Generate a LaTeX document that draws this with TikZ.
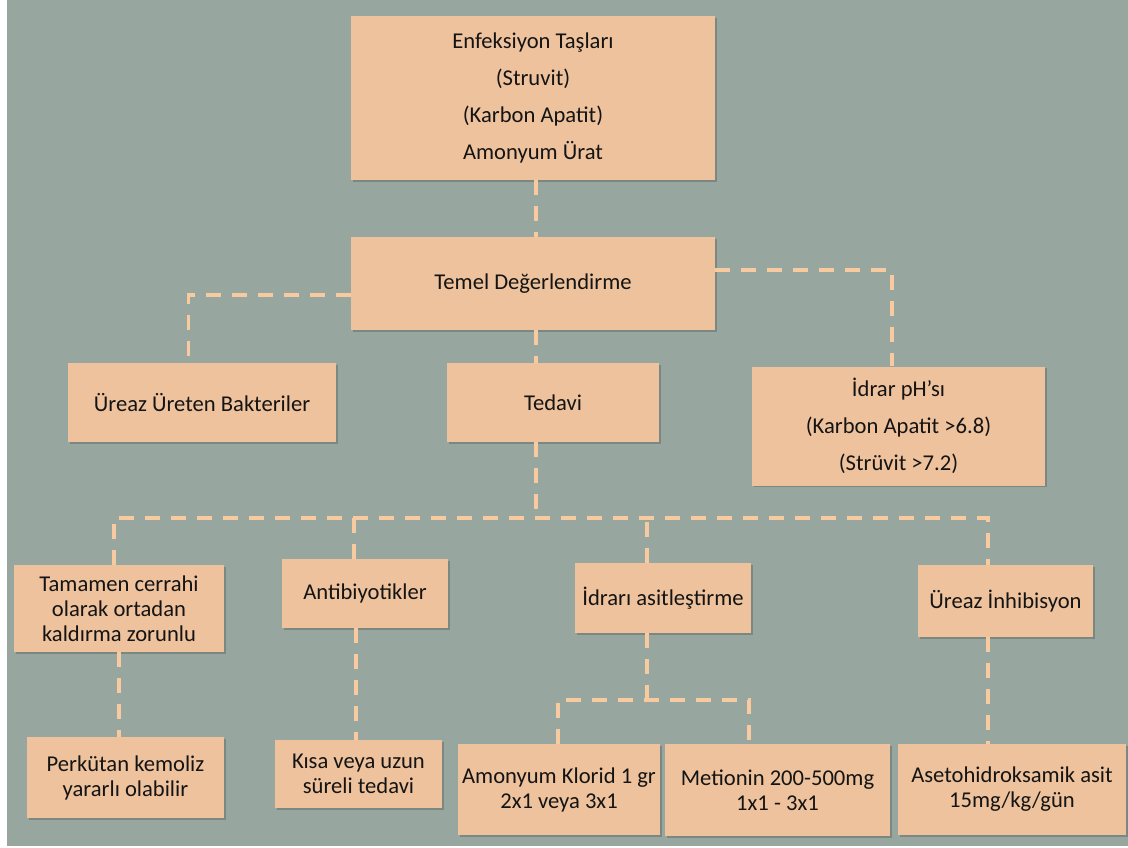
\documentclass[tikz,border=0pt]{standalone}
\usepackage{fontspec}
\setmainfont{Carlito}
\usetikzlibrary{shadows}
\definecolor{bgsage}{HTML}{97A79F}
\definecolor{boxpeach}{HTML}{EEC29C}
\definecolor{linkpeach}{HTML}{F7CA9F}
\definecolor{inkdark}{HTML}{141414}
\tikzset{
  box/.style={rectangle, fill=boxpeach, draw=none, text=inkdark, align=center,
    inner sep=2pt, font=\fontsize{22.6}{25}\selectfont,
    drop shadow={shadow xshift=1.5pt, shadow yshift=-1.5pt, opacity=0.35, fill=black!70}},
  widebox/.style={box, font=\fontsize{22.6}{37}\selectfont},
  link/.style={draw=linkpeach, line width=3.5pt, dash pattern=on 15pt off 11pt}
}
\begin{document}
\begin{tikzpicture}[x=1pt, y=-1pt]
  % canvas
  \useasboundingbox (0,0) rectangle (1128,847);
  \fill[white] (0,0) rectangle (1128,847);
  \fill[bgsage] (7,0) rectangle (1128,846);

  % boxes
  \node[widebox, minimum width=364pt, minimum height=164pt] (top) at (533,98)
    {Enfeksiyon Taşları\\(Struvit)\\(Karbon Apatit)\\Amonyum Ürat};
  \node[box, minimum width=364pt, minimum height=93pt] (temel) at (533,283.5)
    {Temel Değerlendirme};
  \node[box, minimum width=268pt, minimum height=79pt] (ureten) at (202,402.5)
    {Üreaz Üreten Bakteriler};
  \node[box, minimum width=212pt, minimum height=79pt] (tedavi) at (553,402.5)
    {Tedavi};
  \node[widebox, minimum width=293pt, minimum height=119pt] (ph) at (898.5,426)
    {İdrar pH’sı\\(Karbon Apatit >6.8)\\(Strüvit >7.2)};
  \node[box, minimum width=210pt, minimum height=87pt] (tamamen) at (119,608.5)
    {Tamamen cerrahi\\olarak ortadan\\kaldırma zorunlu};
  \node[box, minimum width=166pt, minimum height=69pt] (antibiyo) at (365,593.5)
    {Antibiyotikler};
  \node[box, minimum width=176pt, minimum height=70pt] (idrari) at (663,598)
    {İdrarı asitleştirme};
  \node[box, minimum width=175pt, minimum height=72pt] (inhib) at (1005.5,601)
    {Üreaz İnhibisyon};
  \node[box, minimum width=197pt, minimum height=81pt] (perkutan) at (125.5,777.5)
    {Perkütan kemoliz\\yararlı olabilir};
  \node[box, minimum width=167pt, minimum height=68pt] (kisa) at (358.5,774)
    {Kısa veya uzun\\süreli tedavi};
  \node[box, minimum width=202pt, minimum height=91pt] (amonyum) at (559,789.5)
    {Amonyum Klorid 1 gr\\2x1 veya 3x1};
  \node[box, minimum width=225pt, minimum height=92pt] (metionin) at (777.5,790)
    {Metionin 200-500mg\\1x1 - 3x1};
  \node[box, minimum width=228pt, minimum height=91pt] (aseto) at (1012,789.5)
    {Asetohidroksamik asit\\15mg/kg/gün};

  % junctions of the branching lines
  \coordinate (bus) at (536,518);
  \coordinate (sub) at (647,700);

  % connectors
  \draw[link] ([xshift=3pt]top.south) -- ([xshift=3pt]temel.north);
  \draw[link] ([yshift=-11.5pt]temel.west) -| ([xshift=-13.5pt]ureten.north);
  \draw[link] ([xshift=3pt]temel.south) -- ([xshift=3pt]temel.south |- tedavi.north);
  \draw[link] ([yshift=13.5pt]temel.east) -| ([xshift=-6.5pt]ph.north);

  \draw[link] ([xshift=-17pt]tedavi.south) -- (bus);
  \draw[link] ([xshift=-5pt]tamamen.north) |- (bus) -| ([xshift=-17.5pt]inhib.north);
  \draw[link] ([xshift=-11pt]antibiyo.north) -- ([xshift=-11pt]antibiyo.north |- bus);
  \draw[link] ([xshift=-16pt]idrari.north) -- ([xshift=-16pt]idrari.north |- bus);

  \draw[link] (tamamen.south) -- (tamamen.south |- perkutan.north);
  \draw[link] ([xshift=-9pt]antibiyo.south) -- ([xshift=-9pt]antibiyo.south |- kisa.north);
  \draw[link] ([xshift=-16pt]idrari.south) -- (sub);
  \draw[link] ([xshift=-1pt]amonyum.north) |- (sub) -| ([xshift=-28.5pt]metionin.north);
  \draw[link] ([xshift=-17.5pt]inhib.south) -- ([xshift=-17.5pt]inhib.south |- aseto.north);
\end{tikzpicture}
\end{document}
